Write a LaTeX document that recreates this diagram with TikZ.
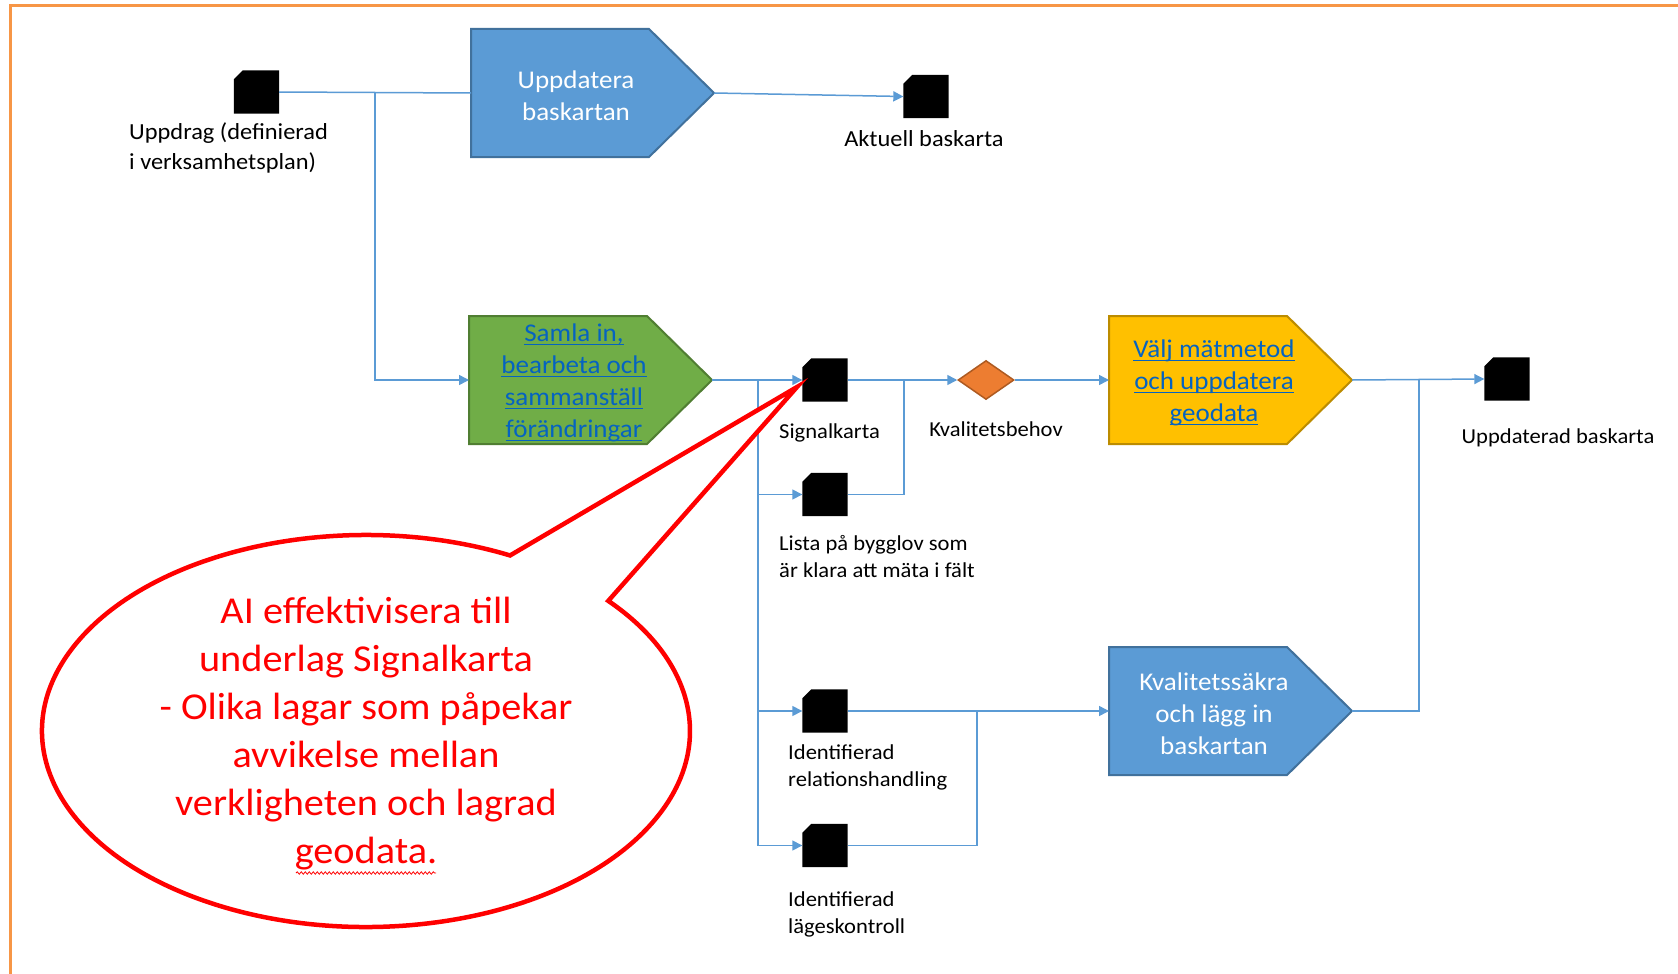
\documentclass[tikz,border=0pt]{standalone}
\usepackage{fontspec}
\setmainfont{Carlito}[FakeStretch=1.06]
\newcommand\lnk[1]{\setbox0\hbox{#1}\rlap{\rule[-4pt]{\wd0}{1.4pt}}\box0}
\usetikzlibrary{arrows.meta,shapes.geometric,decorations.pathmorphing}
\definecolor{conncol}{HTML}{5B9BD5}
\definecolor{bluefill}{HTML}{5B9BD5}
\definecolor{bluedraw}{HTML}{41719C}
\definecolor{greenfill}{HTML}{70AD47}
\definecolor{greendraw}{HTML}{507E32}
\definecolor{yellowfill}{HTML}{FFC000}
\definecolor{yellowdraw}{HTML}{BC8C00}
\definecolor{orangefill}{HTML}{ED7D31}
\definecolor{orangedraw}{HTML}{AE5A21}
\definecolor{linkblue}{HTML}{0563C1}
\definecolor{framecol}{HTML}{F79646}
\definecolor{callred}{HTML}{FF0000}

\newcommand\procbox[7]{%
  \path[fill=#4,draw=#5,line width=2pt,line join=miter]
    (#2,#3) -- ++(178,0) -- ++(65,64) -- ++(-65,64) -- ++(-178,0) -- cycle;
  \coordinate (#1-in) at (#2,#3+64);
  \coordinate (#1-out) at (#2+243,#3+64);
  \node[boxtext,text=#7] (#1) at (#2+105,#3+66.5) {#6};
}
\newcommand\docshape[3]{%
  \node[docbox] (#1) at (#2,#3) {};
  \fill[black] (#1.south west) -- ([yshift=-9pt]#1.north west) -- ([xshift=9pt]#1.north west)
     -- (#1.north east) -- (#1.south east) -- cycle;
}

\begin{document}
\begin{tikzpicture}[x=1pt,y=-1pt,
  conn/.style={draw=conncol,line width=1.5pt},
  arr/.style={conn,-{Triangle[length=10pt,width=10pt]}},
  docbox/.style={rectangle,minimum width=45pt,minimum height=43pt,inner sep=0pt},
  boxtext/.style={align=center,font=\fontsize{25.5}{32}\selectfont},
  lab/.style={align=left,font=\fontsize{21.3}{27}\selectfont,inner sep=0pt},
  toplab/.style={align=left,font=\fontsize{23}{30}\selectfont,inner sep=0pt}
]
\useasboundingbox (0,0) rectangle (1678,974);
\fill[white] (0,0) rectangle (1678,974);

% frame
\draw[framecol,line width=3pt] (10,974) -- (10,6) -- (1678,6);

% process boxes
\procbox{uppd}{471}{29}{bluefill}{bluedraw}{Uppdatera\\baskartan}{white}
\procbox{samla}{469}{316}{greenfill}{greendraw}{\lnk{Samla in,}\\\lnk{bearbeta och}\\\lnk{sammanställ}\\\lnk{förändringar}}{linkblue}
\procbox{valj}{1109}{316}{yellowfill}{yellowdraw}{\lnk{Välj mätmetod}\\\lnk{och uppdatera}\\\lnk{geodata}}{linkblue}
\procbox{kval}{1109}{647}{bluefill}{bluedraw}{Kvalitetssäkra\\och lägg in\\baskartan}{white}

% documents
\docshape{uppdrag}{256.5}{92}
\docshape{aktuell}{926}{96.5}
\docshape{signal}{825}{380}
\docshape{lista}{825}{494.5}
\docshape{relation}{825}{711}
\docshape{lage}{825}{845.5}
\docshape{uppdaterad}{1507}{379}

% diamond
\node[diamond,fill=orangefill,draw=orangedraw,line width=1.5pt,minimum width=56pt,minimum height=39pt,inner sep=0pt] (kvb) at (986,380) {};

% labels
\node[toplab,anchor=west] (l-uppdrag) at (129,148) {Uppdrag (definierad\\i verksamhetsplan)};
\node[toplab,anchor=center] (l-aktuell) at (924,139) {Aktuell baskarta};
\node[lab,anchor=west] (l-signal) at (779,433) {Signalkarta};
\node[lab,anchor=west] (l-lista) at (779,557) {Lista på bygglov som\\är klara att mäta i fält};
\node[lab,anchor=center] (l-kvb) at (996,429) {Kvalitetsbehov};
\node[lab,anchor=center] (l-uppdaterad) at (1558,438) {Uppdaterad baskarta};
\node[lab,anchor=west] (l-relation) at (788,767) {Identifierad\\relationshandling};
\node[lab,anchor=west] (l-lage) at (788,914) {Identifierad\\lägeskontroll};

% junction coordinates
\coordinate (j1) at (375,92);
\coordinate (j1b) at (375,380);
\coordinate (j2) at (758,380);
\coordinate (j2b) at (758,845.5);
\coordinate (j3) at (904,380);
\coordinate (j4) at (1419,380);
\coordinate (j5) at (977,711);

% connectors
\draw[conn] (uppdrag.east) -- (uppd-in);
\draw[arr] (j1) -- (j1b) -- (samla-in);
\draw[arr] (uppd-out) -- (aktuell.west);
\draw[arr] (samla-out) -- (signal.west);
\draw[conn] (j2) -- (j2b);
\draw[arr] (j2 |- lista.west) -- (lista.west);
\draw[arr] (j2 |- relation.west) -- (relation.west);
\draw[arr] (j2b) -- (lage.west);
\draw[arr] (signal.east) -- (kvb.west);
\draw[conn] (lista.east) -- (j3 |- lista.east) -- (j3);
\draw[arr] (kvb.east) -- (valj-in);
\draw[arr] (valj-out) -- (uppdaterad.west);
\draw[conn] (kval-out) -- (j4 |- kval-out) -- (j4);
\draw[arr] (relation.east) -- (kval-in);
\draw[conn] (lage.east) -- (j5 |- lage.east) -- (j5);

% callout
\draw[callred,line width=4.5pt,line join=miter,fill=white]
  (366,731) ++(-63.6:324 and 196) arc[start angle=-63.6,end angle=-401.6,x radius=324,y radius=196]
  -- (797,387) -- cycle;
\node[text=callred,align=center,font=\fontsize{38}{48}\selectfont] (callout) at (366,734)
  {AI effektivisera till\\underlag Signalkarta\\- Olika lagar som påpekar\\avvikelse mellan\\verkligheten och lagrad\\geodata.};
\draw[callred,line width=0.8pt,decorate,decoration={snake,amplitude=1.2pt,segment length=4pt}] (296,873) -- (436,873);
\end{tikzpicture}
\end{document}
